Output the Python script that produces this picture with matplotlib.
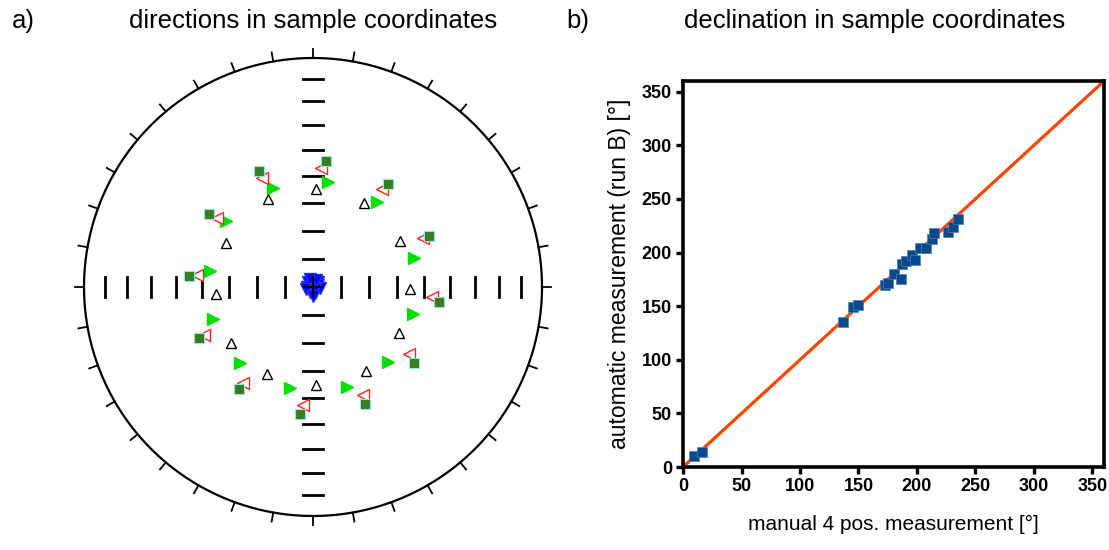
import matplotlib.pyplot as plt
import numpy as np

plt.rcParams['font.family'] = ['Liberation Sans', 'DejaVu Sans']

# ---- a) directions in sample coordinates (declination, inclination in degrees)
sq_dec = [335, 6, 36, 66, 97, 127, 156, 186, 216, 246, 275, 305]
sq_inc = [43.6, 44.0, 43.9, 44.0, 44.0, 43.8, 43.6, 43.5, 44.0, 44.6, 44.7, 44.0]
red_dec = [335, 4, 35, 66, 95, 125, 155, 185, 216, 246, 276, 306]
red_inc = [46.5, 46.7, 46.7, 46.2, 46.6, 47.4, 47.0, 47.0, 46.9, 46.8, 47.7, 47.2]
grn_dec = [338, 8, 37, 74, 105, 135, 161, 193, 224, 252, 279, 307]
grn_inc = [51.5, 51.8, 51.7, 52.1, 52.8, 52.0, 52.0, 52.6, 52.0, 52.1, 52.4, 50.6]
blk_dec = [333, 2, 31, 62, 91, 118, 148, 178, 208, 236, 266, 297]
blk_inc = [54.6, 54.7, 54.6, 54.6, 55.0, 55.1, 54.3, 54.7, 54.5, 54.3, 55.2, 54.9]
blue_dec = [315, 0, 45, 270, 70, 180, 210, 160, 100, 250, 135, 180, 20, 340]
blue_inc = [87.4, 88.2, 87.6, 88.0, 88.3, 89.0, 87.8, 87.6, 87.6, 87.5, 89.2, 86.8, 87.2, 87.0]

# ---- b) declination comparison
manual_dec = [9, 16, 137, 145, 150, 173, 175, 180, 186, 187, 191, 196, 198,
              203, 208, 213, 215, 227, 231, 235]
auto_dec = [10, 14, 135, 149, 151, 170, 172, 180, 175, 189, 192, 198, 193,
            204, 204, 213, 218, 219, 224, 231]


def eqarea(dec, inc):
    dec = np.radians(np.asarray(dec, float))
    inc = np.radians(np.abs(np.asarray(inc, float)))
    r = np.sqrt(2) * np.sin((np.pi / 2 - inc) / 2)
    return r * np.sin(dec), r * np.cos(dec)


fig = plt.figure(figsize=(11.09, 5.5), dpi=100)

# stereonet
ax = fig.add_axes([0.0551, 0.0202, 0.4543, 0.916])
ax.set_xlim(-1.1, 1.1)
ax.set_ylim(-1.1, 1.1)
ax.set_aspect('equal')
ax.axis('off')

t = np.linspace(0, 2 * np.pi, 400)
ax.plot(np.cos(t), np.sin(t), color='black', lw=1.6)
for a in np.radians(np.arange(0, 360, 10)):
    ax.plot([np.sin(a), 1.04 * np.sin(a)], [np.cos(a), 1.04 * np.cos(a)],
            color='black', lw=1.3)

ticks_r = np.sqrt(2) * np.sin(np.radians(90 - np.arange(10, 90, 10)) / 2)
h = 0.043
for r in ticks_r:
    for s in (-1, 1):
        ax.plot([s * r, s * r], [-h, h], color='black', lw=2.0)
        ax.plot([-h, h], [s * r, s * r], color='black', lw=2.0)

x, y = eqarea(blue_dec, blue_inc)
ax.plot(x, y, 'v', color='#0000ff', mec='#2a2aff', ms=8, ls='none', zorder=3)
ax.plot([-h, h], [0, 0], color='black', lw=1.3, zorder=4)
ax.plot([0, 0], [-h, h], color='black', lw=1.3, zorder=4)

x, y = eqarea(blk_dec, blk_inc)
ax.plot(x, y, '^', mfc='white', mec='black', mew=1.0, ms=6.5, ls='none', zorder=3)
x, y = eqarea(grn_dec, grn_inc)
ax.plot(x, y, '>', color='#00e000', mec='#00e000', ms=8, ls='none', zorder=3)
x, y = eqarea(red_dec, red_inc)
ax.plot(x, y, '<', mfc='white', mec='#ff2020', mew=1.0, ms=8, ls='none', zorder=3)
x, y = eqarea(sq_dec, sq_inc)
ax.plot(x, y, 's', color='#3a7a20', mec='#8fe8d8', mew=0.8, ms=6.5, ls='none', zorder=4)

fig.text(0.011, 0.962, 'a)', fontsize=18.5, va='center')
fig.text(0.282, 0.962, 'directions in sample coordinates', fontsize=18.5,
         va='center', ha='center')

# declination comparison
bx = fig.add_axes([0.6159, 0.1509, 0.3796, 0.7018])
bx.plot([0, 360], [0, 360], color='#ff4500', lw=2.3, zorder=2)
bx.plot(manual_dec, auto_dec, 's', color='#0a4a8c', mec='#4f7fb0', mew=0.5,
        ms=6.5, ls='none', zorder=3)
bx.set_xlim(0, 360)
bx.set_ylim(0, 360)
bx.set_xticks(np.arange(0, 351, 50))
bx.set_yticks(np.arange(0, 351, 50))
for sp in bx.spines.values():
    sp.set_linewidth(2.6)
bx.tick_params(width=2.4, length=5, labelsize=13, pad=3)
for lab in bx.get_xticklabels() + bx.get_yticklabels():
    lab.set_fontweight('bold')
bx.set_xlabel('manual 4 pos. measurement [°]', fontsize=15, labelpad=14)
bx.set_ylabel('automatic measurement (run B) [°]', fontsize=16.5, labelpad=8)

fig.text(0.511, 0.962, 'b)', fontsize=18.5, va='center')
fig.text(0.789, 0.962, 'declination in sample coordinates', fontsize=18.5,
         va='center', ha='center')

fig.savefig('out.png', dpi=100)
